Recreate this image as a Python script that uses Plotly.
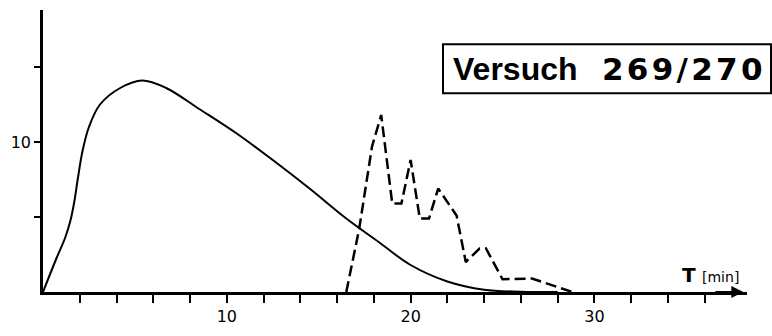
import plotly.graph_objects as go

# Solid curve (T in min, value)
t_solid = [0, 0.75, 1.2, 1.5, 1.7, 1.9, 2.15, 2.5, 3.1, 4.2, 5.4, 6.7, 8.5, 10.5, 12.5,
           14.5, 16.5, 18.3, 20.0, 22.0, 24.0, 26.0, 28.0]
v_solid = [0, 2.3, 3.6, 4.8, 6.0, 7.6, 9.4, 11.0, 12.5, 13.6, 14.1, 13.6, 12.2, 10.6, 8.8,
           6.9, 4.9, 3.3, 1.8, 0.7, 0.15, 0.02, 0]

# Dashed curve
t_dash = [16.5, 17.2, 17.9, 18.4, 19.0, 19.5, 20.0, 20.5, 21.0, 21.5, 22.5, 23.0,
          23.75, 24.1, 25.0, 26.6, 28.8]
v_dash = [0, 4.2, 9.7, 11.8, 5.9, 5.9, 8.8, 4.9, 4.9, 6.9, 5.1, 2.0,
          2.9, 2.9, 0.85, 0.9, 0]

x_tickvals = list(range(2, 37, 2))
x_ticktext = [str(v) if v in (10, 20, 30) else "" for v in x_tickvals]
y_tickvals = [5, 10, 15]
y_ticktext = ["", "10", ""]

title_word = "Versuch"
title_num = "269/270"
x_label = "T"
x_unit = "[min]"

fig = go.Figure()
fig.add_trace(go.Scatter(x=t_solid, y=v_solid, mode="lines",
                         line=dict(color="black", width=2, shape="spline", smoothing=1.0),
                         showlegend=False, cliponaxis=False))
fig.add_trace(go.Scatter(x=t_dash, y=v_dash, mode="lines",
                         line=dict(color="black", width=2.5, dash="11px,5px"),
                         showlegend=False, cliponaxis=False))

fig.update_layout(
    width=772, height=336,
    margin=dict(l=43, r=25, t=10, b=38),
    paper_bgcolor="white", plot_bgcolor="white",
    font=dict(family="DejaVu Sans", color="black", size=16),
    xaxis=dict(range=[0, 38.3], showgrid=False, zeroline=False,
               showline=True, linecolor="black", linewidth=2.5,
               ticks="outside", ticklen=8, tickwidth=1.5, tickcolor="black",
               tickvals=x_tickvals, ticktext=x_ticktext,
               tickfont=dict(size=16, family="DejaVu Sans")),
    yaxis=dict(range=[0, 18.8], showgrid=False, zeroline=False,
               showline=True, linecolor="black", linewidth=2.5,
               ticks="outside", ticklen=6, tickwidth=1.5, tickcolor="black",
               tickvals=y_tickvals, ticktext=y_ticktext,
               tickfont=dict(size=16, family="DejaVu Sans")),
)

def px_x(p):
    return (p - 43) / 704

def px_y(p):
    return (298 - p) / 288

# Box around title
fig.add_shape(type="rect", xref="paper", yref="paper",
              x0=px_x(443), x1=px_x(771),
              y0=px_y(95), y1=px_y(45),
              line=dict(color="black", width=2), fillcolor="white")
fig.add_annotation(xref="paper", yref="paper",
                   x=px_x(451), y=px_y(70),
                   text="<b>" + title_word + "</b>", showarrow=False,
                   font=dict(family="Liberation Sans", size=32, color="black"),
                   xanchor="left", yanchor="middle")
fig.add_annotation(xref="paper", yref="paper",
                   x=px_x(600), y=px_y(70),
                   text="<b><span style='letter-spacing:3.3px'>" + title_num + "</span></b>",
                   showarrow=False,
                   font=dict(family="DejaVu Sans", size=31, color="black"),
                   xanchor="left", yanchor="middle")

# Axis arrow
fig.add_annotation(x=38.1, y=0, ax=36.5, ay=0, xref="x", yref="y",
                   axref="x", ayref="y", showarrow=True, arrowhead=2,
                   arrowsize=1.2, arrowwidth=2, arrowcolor="black", text="")
# Axis label
fig.add_annotation(xref="paper", yref="paper",
                   x=px_x(680), y=px_y(295),
                   text="<b>" + x_label + "</b> <span style='font-size:14px'>" + x_unit + "</span>",
                   showarrow=False, xanchor="left", yanchor="bottom",
                   font=dict(family="DejaVu Sans", size=20, color="black"))

fig.write_html("out.html")
